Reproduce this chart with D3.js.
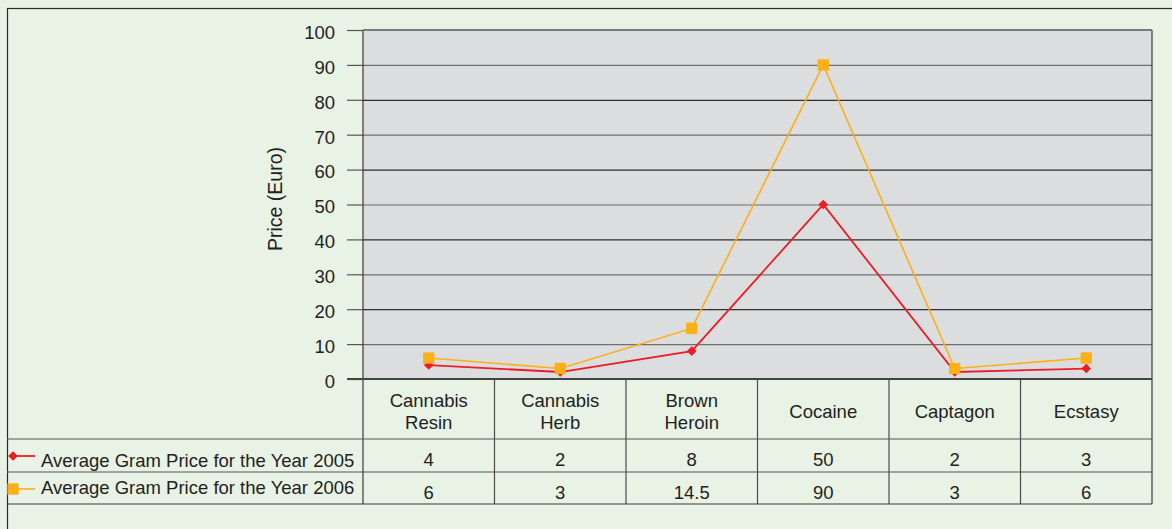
<!DOCTYPE html>
<html>
<head>
<meta charset="utf-8">
<script src="https://cdn.jsdelivr.net/npm/d3@7"></script>
<style>
  html, body { margin: 0; padding: 0; background: #e8f2e5; }
  svg { display: block; }
  text { font-family: "Liberation Sans", Arial, Helvetica, sans-serif; fill: #231f20; }
</style>
</head>
<body>
<svg id="chart" width="1172" height="529"></svg>
<script>
// Drug categories (label lines) and average gram prices in euro
const categories = ["Cannabis Resin", "Cannabis Herb", "Brown Heroin", "Cocaine", "Captagon", "Ecstasy"];
const categoryLines = [["Cannabis", "Resin"], ["Cannabis", "Herb"], ["Brown", "Heroin"], ["Cocaine"], ["Captagon"], ["Ecstasy"]];
const price2005 = [4, 2, 8, 50, 2, 3];
const price2006 = [6, 3, 14.5, 90, 3, 6];
const seriesNames = ["Average Gram Price for the Year 2005", "Average Gram Price for the Year 2006"];
const yTicks = [0, 10, 20, 30, 40, 50, 60, 70, 80, 90, 100];
const yTitle = "Price (Euro)";

const svg = d3.select("#chart");
const fontSize = 18.5;

const plot = { left: 363, right: 1152, top: 30, bottom: 379 };
const table = { left: 7, headerBottom: 439, row1Bottom: 472, row2Bottom: 504 };

const x = d3.scaleBand().domain(categories).range([plot.left, plot.right]).padding(0);
const y = d3.scaleLinear().domain([0, 100]).range([plot.bottom, plot.top]);

// diamonds are squares turned by 45 degrees
const series = [
  { name: seriesNames[0], values: price2005, color: "#ec1c24", size: 46, rotate: 45, width: 1.8 },
  { name: seriesNames[1], values: price2006, color: "#fbb017", size: 128, rotate: 0, width: 1.6 }
];

// outer frame
svg.append("rect")
  .attr("x", 7.5).attr("y", 8.5).attr("width", 1200).attr("height", 600)
  .attr("fill", "#e8f2e5").attr("stroke", "#2b2b2b").attr("stroke-width", 1.2);

// plot background
svg.append("rect")
  .attr("x", plot.left).attr("y", plot.top)
  .attr("width", plot.right - plot.left).attr("height", plot.bottom - plot.top)
  .attr("fill", "#dcdddf");

// gridlines
const grid = svg.append("g")
  .attr("transform", `translate(${plot.left},0)`)
  .call(d3.axisLeft(y).tickValues(yTicks).tickSize(-(plot.right - plot.left)).tickFormat(""));
grid.select(".domain").remove();
grid.selectAll(".tick line")
  .attr("stroke", d => (d % 20 === 0 ? "#2f2f2f" : "#6f6f6f"))
  .attr("stroke-width", 1.2);

// y axis with outside ticks
const yAxis = svg.append("g")
  .attr("transform", `translate(${plot.left},0)`)
  .call(d3.axisLeft(y).tickValues(yTicks).tickSize(16).tickPadding(12));
yAxis.select(".domain").remove();
yAxis.selectAll(".tick line").attr("stroke", "#555").attr("stroke-width", 1.2);
yAxis.selectAll(".tick text")
  .style("font-size", fontSize + "px")
  .attr("dy", "0.45em")
  .attr("fill", "#231f20");

// y axis title
svg.append("text")
  .attr("transform", `translate(282,199) rotate(-90)`)
  .attr("text-anchor", "middle")
  .style("font-size", "19.5px")
  .text(yTitle);

// data table grid
const lines = svg.append("g").attr("stroke", "#3a3a3a").attr("stroke-width", 1.2);
// plot left and right borders running down through the table
lines.append("line").attr("x1", plot.left).attr("x2", plot.left).attr("y1", plot.top).attr("y2", table.row2Bottom);
lines.append("line").attr("x1", plot.right).attr("x2", plot.right).attr("y1", plot.top).attr("y2", table.row2Bottom);
lines.append("line").attr("x1", plot.left).attr("x2", plot.right).attr("y1", plot.top).attr("y2", plot.top).attr("stroke", "#7a7a7a").attr("stroke-width", 2);
// category separators
categories.slice(1).forEach(c => {
  lines.append("line").attr("x1", x(c)).attr("x2", x(c)).attr("y1", plot.bottom).attr("y2", table.row2Bottom).attr("stroke", "#4a4a4a");
});
// horizontal rules
lines.append("line").attr("x1", plot.left - 16).attr("x2", plot.right).attr("y1", plot.bottom).attr("y2", plot.bottom).attr("stroke-width", 1.8).attr("stroke", "#444");
[table.headerBottom, table.row1Bottom].forEach(yy => {
  lines.append("line").attr("x1", table.left).attr("x2", plot.right).attr("y1", yy).attr("y2", yy).attr("stroke", "#555");
});
lines.append("line").attr("x1", table.left).attr("x2", plot.right).attr("y1", table.row2Bottom).attr("y2", table.row2Bottom);

// category header labels
const headerMid = (plot.bottom + table.headerBottom) / 2 + 3;
categories.forEach((c, i) => {
  const ls = categoryLines[i];
  const t = svg.append("text")
    .attr("text-anchor", "middle")
    .style("font-size", fontSize + "px");
  ls.forEach((l, j) => {
    t.append("tspan")
      .attr("x", x(c) + x.bandwidth() / 2)
      .attr("y", headerMid + 6 + (j - (ls.length - 1) / 2) * 22)
      .text(l);
  });
});

// value rows
const rowBaselines = [466, 499];
series.forEach((s, si) => {
  svg.append("g").selectAll("text")
    .data(s.values)
    .join("text")
    .attr("x", (d, i) => x(categories[i]) + x.bandwidth() / 2)
    .attr("y", rowBaselines[si])
    .attr("text-anchor", "middle")
    .style("font-size", fontSize + "px")
    .text(d => d);
});

// legend keys in the table
series.forEach((s, si) => {
  const ly = si === 0 ? 456 : 489;
  svg.append("line")
    .attr("x1", si === 0 ? 12 : 8).attr("x2", 35).attr("y1", ly).attr("y2", ly)
    .attr("stroke", s.color).attr("stroke-width", s.width);
  svg.append("path")
    .attr("d", d3.symbol(d3.symbolSquare, s.size)())
    .attr("transform", `translate(13,${ly}) rotate(${s.rotate})`)
    .attr("fill", s.color);
  svg.append("text")
    .attr("x", 41).attr("y", rowBaselines[si] + (si === 0 ? 0.5 : -5))
    .style("font-size", fontSize + "px")
    .text(s.name);
});

// series lines and markers
const line = d3.line()
  .x((d, i) => x(categories[i]) + x.bandwidth() / 2)
  .y(d => y(d));

series.forEach(s => {
  svg.append("path")
    .datum(s.values)
    .attr("d", line)
    .attr("fill", "none")
    .attr("stroke", s.color)
    .attr("stroke-width", s.width);
  svg.append("g").selectAll("path")
    .data(s.values)
    .join("path")
    .attr("d", d3.symbol(d3.symbolSquare, s.size)())
    .attr("transform", (d, i) => `translate(${x(categories[i]) + x.bandwidth() / 2},${y(d)}) rotate(${s.rotate})`)
    .attr("fill", s.color);
});
</script>
</body>
</html>
